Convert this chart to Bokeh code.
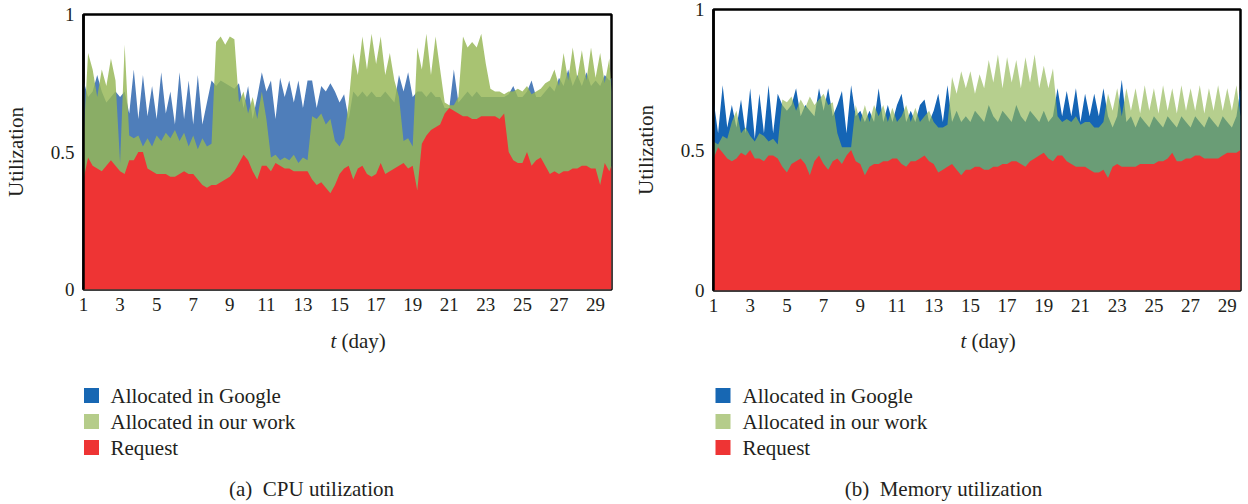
from bokeh.plotting import figure
from bokeh.layouts import row, column
from bokeh.models import Range1d, FixedTicker
from bokeh.embed import file_html
from bokeh.resources import INLINE
from bokeh.core.properties import value

# ---------------- data ----------------
cpu_days = [1 + 0.25 * i for i in range(116)] + [29.87]
cpu_request = [
    .40, .48, .45, .44, .43, .45, .47, .45, .43, .42,
    .47, .47, .50, .50, .44, .43, .42, .42, .42, .41,
    .41, .42, .43, .42, .42, .40, .38, .37, .38, .38,
    .39, .40, .41, .43, .46, .49, .47, .43, .40, .45,
    .45, .43, .46, .45, .44, .44, .43, .43, .43, .43,
    .40, .38, .39, .37, .35, .38, .42, .44, .45, .40,
    .44, .45, .42, .41, .42, .46, .42, .43, .44, .45,
    .46, .44, .45, .36, .53, .56, .58, .59, .60, .64,
    .66, .65, .64, .63, .63, .62, .62, .63, .63, .63,
    .63, .62, .64, .50, .47, .46, .46, .50, .45, .47,
    .48, .45, .42, .43, .42, .43, .43, .44, .44, .45,
    .45, .44, .44, .38, .46, .43, .45]
cpu_google = [
    .76, .70, .72, .78, .72, .68, .70, .72, .70, .72,
    .64, .80, .62, .78, .63, .74, .62, .79, .64, .72,
    .60, .79, .62, .76, .60, .78, .60, .68, .76, .74,
    .76, .75, .74, .73, .75, .66, .74, .62, .70, .79,
    .72, .76, .62, .77, .70, .76, .68, .76, .66, .76,
    .76, .66, .74, .72, .75, .72, .68, .71, .62, .72,
    .70, .72, .70, .72, .70, .70, .72, .70, .68, .78,
    .72, .79, .70, .72, .72, .70, .72, .70, .70, .66,
    .66, .80, .68, .70, .72, .70, .72, .70, .70, .70,
    .70, .70, .70, .71, .74, .70, .70, .72, .76, .70,
    .70, .72, .74, .72, .77, .74, .80, .74, .78, .74,
    .79, .74, .76, .74, .78, .76, .77]
cpu_ours = [
    .55, .86, .80, .70, .80, .74, .84, .76, .46, .89,
    .56, .55, .56, .52, .55, .52, .56, .54, .57, .55,
    .58, .54, .57, .52, .56, .51, .55, .52, .53, .90,
    .92, .89, .92, .91, .68, .72, .64, .70, .62, .72,
    .62, .48, .49, .47, .48, .47, .49, .46, .48, .47,
    .63, .62, .64, .60, .62, .54, .52, .55, .68, .86,
    .78, .92, .80, .93, .82, .92, .78, .86, .76, .70,
    .54, .55, .52, .88, .80, .93, .78, .92, .80, .68,
    .67, .67, .70, .92, .88, .90, .88, .93, .82, .73,
    .72, .72, .71, .72, .72, .73, .72, .74, .71, .72,
    .73, .75, .76, .80, .74, .86, .76, .88, .77, .87,
    .76, .88, .77, .86, .75, .84, .72]

mem_days = [1 + 0.25 * i for i in range(115)] + [29.72]
mem_request = [
    .47, .51, .49, .47, .46, .47, .49, .48, .50, .47,
    .47, .46, .48, .48, .47, .44, .42, .45, .46, .47,
    .45, .41, .46, .48, .45, .43, .46, .47, .45, .48,
    .50, .46, .45, .41, .44, .45, .45, .46, .46, .47,
    .47, .45, .44, .46, .46, .47, .48, .46, .45, .42,
    .43, .44, .45, .43, .41, .43, .43, .44, .44, .43,
    .43, .44, .44, .45, .45, .46, .46, .45, .44, .46,
    .47, .48, .49, .47, .46, .48, .48, .46, .45, .44,
    .44, .44, .43, .42, .42, .43, .40, .44, .45, .44,
    .44, .44, .44, .45, .45, .45, .45, .46, .46, .47,
    .49, .46, .46, .47, .47, .48, .48, .47, .47, .47,
    .47, .48, .49, .49, .49, .50]
mem_google = [
    .68, .56, .73, .58, .66, .58, .68, .56, .72, .54,
    .70, .56, .73, .56, .70, .66, .64, .66, .72, .62,
    .66, .64, .62, .72, .64, .72, .62, .66, .71, .56,
    .73, .62, .64, .60, .64, .60, .72, .60, .66, .60,
    .66, .70, .60, .64, .60, .66, .68, .60, .64, .70,
    .60, .73, .60, .64, .60, .62, .60, .64, .62, .60,
    .66, .62, .60, .64, .62, .60, .66, .62, .60, .64,
    .62, .60, .64, .60, .62, .72, .62, .71, .62, .72,
    .60, .70, .62, .70, .62, .72, .62, .58, .62, .75,
    .60, .62, .58, .62, .60, .58, .62, .60, .58, .62,
    .60, .58, .62, .60, .58, .62, .60, .58, .62, .60,
    .58, .62, .60, .58, .62, .72]
mem_ours = [
    .53, .52, .55, .54, .60, .64, .56, .58, .55, .53,
    .56, .55, .53, .54, .52, .68, .67, .69, .64, .68,
    .65, .69, .66, .68, .70, .66, .67, .56, .51, .51,
    .51, .66, .60, .66, .60, .66, .62, .66, .60, .65,
    .60, .62, .66, .60, .65, .60, .62, .64, .60, .58,
    .58, .59, .76, .70, .78, .72, .78, .70, .77, .72,
    .82, .74, .84, .72, .83, .74, .82, .72, .83, .74,
    .84, .72, .80, .72, .79, .62, .60, .61, .60, .62,
    .59, .60, .60, .58, .58, .60, .70, .64, .72, .62,
    .72, .64, .72, .63, .73, .64, .72, .63, .73, .64,
    .72, .63, .73, .64, .72, .64, .73, .63, .72, .64,
    .73, .64, .72, .64, .73, .62]

x_ticks = [1, 3, 5, 7, 9, 11, 13, 15, 17, 19, 21, 23, 25, 27, 29]
y_ticks = [0, 0.5, 1]
y_tick_labels = {0: "0", 0.5: "0.5", 1: "1"}
legend_labels = ["Allocated in Google", "Allocated in our work", "Request"]
captions = ["(a)\u00a0 CPU utilization", "(b)\u00a0 Memory utilization"]

SERIF = "Liberation Serif"
INK = "#231f20"
RED = "#ee3434"
LEG_COLORS = ["#1767b3", "#b5cc8a", RED]
MAIN_H = 323
LOW_H = 181


def main_fig(days, req, goo, ours, x_end, blue, green, g_alpha,
             width, left, right, top, bottom):
    p = figure(width=width, height=MAIN_H, x_range=Range1d(1, x_end),
               y_range=Range1d(0, 1), toolbar_location=None,
               output_backend="svg", min_border_left=left,
               min_border_right=right, min_border_top=top,
               min_border_bottom=bottom)
    p.varea(x=days, y1=0, y2=goo, fill_color=blue, fill_alpha=1.0)
    p.varea(x=days, y1=0, y2=ours, fill_color=green, fill_alpha=g_alpha)
    p.varea(x=days, y1=0, y2=req, fill_color=RED, fill_alpha=1.0)
    p.grid.visible = False
    p.outline_line_color = "black"
    p.outline_line_width = 2.5
    p.outline_line_alpha = 1.0
    p.background_fill_color = "white"
    p.border_fill_color = "white"

    xa = p.xaxis[0]
    xa.ticker = FixedTicker(ticks=x_ticks)
    xa.major_tick_out = 0
    xa.major_tick_in = 0
    xa.minor_tick_out = 0
    xa.minor_tick_in = 0
    xa.axis_line_color = None
    xa.major_label_standoff = 8
    xa.major_label_text_font = SERIF
    xa.major_label_text_font_size = "19px"
    xa.major_label_text_color = INK

    ya = p.yaxis[0]
    ya.ticker = FixedTicker(ticks=y_ticks)
    ya.major_label_overrides = y_tick_labels
    ya.major_tick_out = 0
    ya.major_tick_in = 0
    ya.minor_tick_out = 0
    ya.minor_tick_in = 0
    ya.axis_line_color = "black"
    ya.axis_line_width = 2.5
    ya.major_label_standoff = 9
    ya.major_label_text_font = SERIF
    ya.major_label_text_font_size = "19px"
    ya.major_label_text_color = INK
    ya.axis_label = "Utilization"
    ya.axis_label_text_font = SERIF
    ya.axis_label_text_font_size = "21px"
    ya.axis_label_text_font_style = "normal"
    ya.axis_label_text_color = INK
    ya.axis_label_standoff = 20
    return p


def lower_fig(width, left, right, x0, x1, t_x, sq_x, txt_x, cap_x, caption):
    # frame is aligned with the chart frame above; x data units = page pixels
    h = LOW_H
    p = figure(width=width, height=h, x_range=Range1d(x0, x1),
               y_range=Range1d(h, 0), toolbar_location=None,
               output_backend="svg", min_border_left=left,
               min_border_right=right, min_border_top=0, min_border_bottom=0,
               x_axis_location=None, y_axis_location=None)
    p.grid.visible = False
    p.outline_line_color = None
    p.background_fill_color = "white"
    p.border_fill_color = "white"
    # axis title  "t (day)"
    p.text(x=[t_x], y=[17], text=["t"], text_font=value(SERIF),
           text_font_size=value("21px"), text_font_style="italic",
           text_align="left", text_baseline="middle", text_color=INK)
    p.text(x=[t_x + 11], y=[17], text=["(day)"], text_font=value(SERIF),
           text_font_size=value("21px"), text_align="left",
           text_baseline="middle", text_color=INK)
    # legend
    ys = [72, 98, 124]
    p.rect(x=[sq_x] * 3, y=ys, width=15, height=15,
           fill_color=LEG_COLORS, line_color=None)
    p.text(x=[txt_x] * 3, y=ys, text=legend_labels, text_font=value(SERIF),
           text_font_size=value("21px"), text_align="left",
           text_baseline="middle", text_color=INK)
    # caption
    p.text(x=[cap_x], y=[165], text=[caption], text_font=value(SERIF),
           text_font_size=value("21px"), text_align="center",
           text_baseline="middle", text_color=INK)
    return p


p1 = main_fig(cpu_days, cpu_request, cpu_google, cpu_ours, 29.87,
              "#4f7eba", "#96b755", 0.83, 624, 83, 13, 14, 34)
p2 = main_fig(mem_days, mem_request, mem_google, mem_ours, 29.72,
              "#1565b5", "#94b858", 0.68, 621, 89, 5, 9, 33)

b1 = lower_fig(624, 83, 13, 83, 611, 330, 91, 110, 311, captions[0])
b2 = lower_fig(621, 89, 5, 713, 1240, 960, 722.5, 742, 943, captions[1])

layout = row(column(p1, b1), column(p2, b2))

open("out.html", "w").write(file_html(layout, INLINE))
